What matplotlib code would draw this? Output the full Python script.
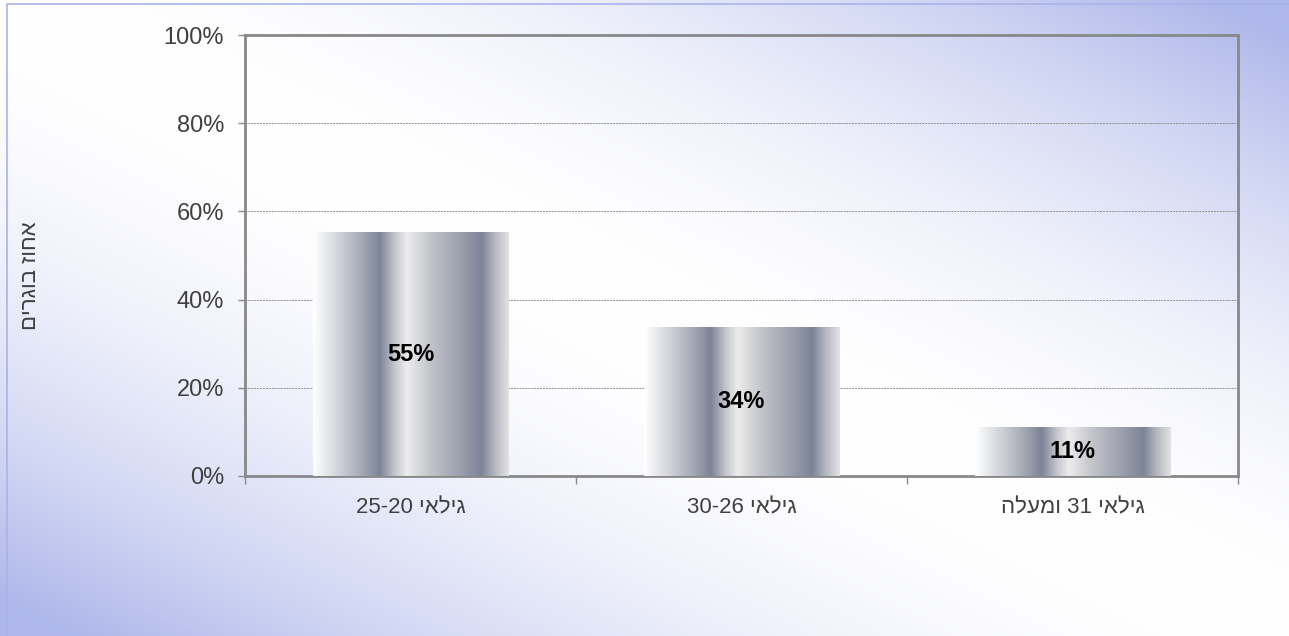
import matplotlib
matplotlib.use("Agg")
import matplotlib.pyplot as plt
import numpy as np
from matplotlib.colors import LinearSegmentedColormap, to_rgb

plt.rcParams['font.family'] = ['Liberation Sans', 'DejaVu Sans']

# data (hebrew strings are stored in visual order, matplotlib has no bidi)
categories = ["25-20 יאליג", "30-26 יאליג", "הלעמו 31 יאליג"]
values = [0.553, 0.336, 0.111]
value_labels = ["55%", "34%", "11%"]
yticks = [0, 0.2, 0.4, 0.6, 0.8, 1.0]
ytick_labels = ["0%", "20%", "40%", "60%", "80%", "100%"]
ylabel = "םירגוב זוחא"

W, H = 1289, 636
fig = plt.figure(figsize=(W / 100, H / 100), dpi=100)

# background gradient: blue in top-right and bottom-left corners, white band across
bg = fig.add_axes([0, 0, 1, 1], zorder=-10)
u = np.linspace(0, 1, 600)[None, :]
v = np.linspace(1, 0, 300)[:, None]
t = np.abs(u + v - 1)
s = np.clip(t * 1.06, 0, 1) ** 1.9
blue = np.array(to_rgb("#aeb7ea"))
img = (1 - s[..., None]) * np.array([1.0, 1.0, 1.0]) + s[..., None] * blue
bg.imshow(img, extent=[0, 1, 0, 1], aspect='auto', origin='upper')
bg.set_xlim(0, 1)
bg.set_ylim(0, 1)
bg.axis('off')
# thin frame of the chart area
bg.plot([7 / W, 7 / W, 1], [0, 1 - 4 / H, 1 - 4 / H], color="#a9b3ea", lw=1.2)

ax = fig.add_axes([245 / W, 1 - 476 / H, (1238 - 245) / W, (476 - 35) / H])
ax.patch.set_alpha(0)

x = np.arange(len(categories))
bars = ax.bar(x, values, width=0.59, color="none", edgecolor="none", zorder=3)

# metallic look for the bars
metal = LinearSegmentedColormap.from_list("metal", [
    (0.00, "#ffffff"), (0.12, "#d4d6dc"), (0.25, "#a4a8b4"), (0.34, "#7d8397"),
    (0.42, "#c6c8ce"), (0.48, "#ececec"), (0.60, "#c2c4ca"), (0.75, "#9ca0ae"),
    (0.86, "#7d8397"), (0.93, "#b6b8c0"), (1.00, "#e2e2e4")])
grad = np.linspace(0, 1, 256)[None, :]
for b in bars:
    x0 = b.get_x()
    ax.imshow(grad, cmap=metal, aspect='auto', zorder=3,
              extent=[x0, x0 + b.get_width(), 0, b.get_height()])

for b, lab in zip(bars, value_labels):
    ax.text(b.get_x() + b.get_width() / 2, b.get_height() / 2, lab,
            ha='center', va='center', fontsize=17, fontweight='bold',
            color="black", zorder=4)

ax.set_xlim(-0.5, len(categories) - 0.5)
ax.set_ylim(0, 1)

for yy in yticks[1:-1]:
    ax.axhline(yy, color="#909090", lw=0.7, ls=(0, (2, 1)), zorder=1)

ax.set_yticks(yticks)
ax.set_yticklabels(ytick_labels)
ax.tick_params(axis='y', length=5, width=1, color="#8a8a8a", pad=10,
               labelsize=17, labelcolor="#404040")
ax.set_xticks(x)
ax.set_xticklabels(categories)
ax.tick_params(axis='x', which='major', length=0, pad=15, labelsize=16,
               labelcolor="#404040")
ax.set_xticks(np.arange(len(categories) + 1) - 0.5, minor=True)
ax.tick_params(axis='x', which='minor', length=6, width=1, color="#8a8a8a")

for sp in ax.spines.values():
    sp.set_color("#888888")
    sp.set_linewidth(2)

fig.text(30 / W, 1 - 276 / H, ylabel, rotation=90, ha='center', va='center',
         fontsize=16, color="#404040")

fig.savefig("out.png", dpi=100)
